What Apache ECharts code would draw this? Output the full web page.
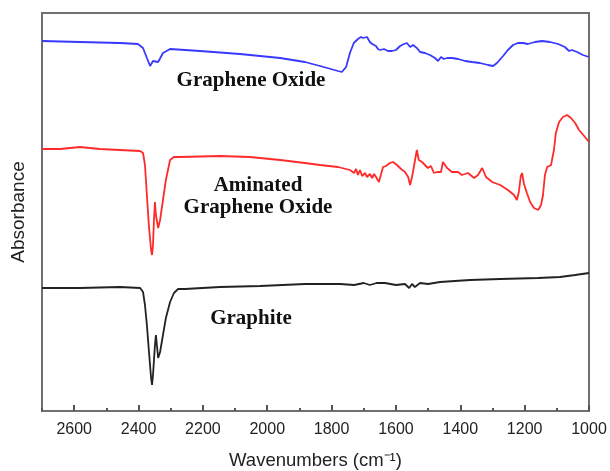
<!DOCTYPE html>
<html>
<head>
<meta charset="utf-8">
<script src="https://cdn.jsdelivr.net/npm/echarts@6/dist/echarts.min.js"></script>
<style>
html,body{margin:0;padding:0;background:#fff;}
#chart{width:610px;height:471px;}
</style>
</head>
<body>
<div id="chart"></div>
<script>
// wavenumber (cm-1) / absorbance (a.u.)
var goWave = [2700,2582,2458,2402,2386,2374,2364,2355,2349,2339,2324,2302,2209,2085,1960,1883,1836,1780,1768,1755,1743,1731,1718,1709,1702,1696,1690,1681,1674,1662,1656,1649,1637,1625,1612,1600,1587,1575,1566,1556,1547,1535,1525,1510,1494,1479,1469,1460,1451,1441,1426,1407,1385,1364,1339,1314,1298,1286,1267,1252,1236,1221,1205,1190,1168,1146,1121,1096,1075,1062,1053,1037,1019,1000];
var goAbs = [3.70,3.69,3.68,3.67,3.63,3.53,3.45,3.50,3.52,3.49,3.58,3.62,3.60,3.57,3.53,3.49,3.45,3.40,3.39,3.44,3.58,3.68,3.72,3.74,3.73,3.72,3.74,3.69,3.67,3.65,3.62,3.61,3.62,3.60,3.60,3.61,3.65,3.67,3.68,3.64,3.66,3.63,3.59,3.58,3.56,3.53,3.50,3.54,3.52,3.53,3.53,3.52,3.50,3.49,3.48,3.46,3.45,3.48,3.55,3.61,3.66,3.68,3.68,3.67,3.69,3.70,3.69,3.67,3.64,3.60,3.61,3.59,3.56,3.54];

var agoWave = [2700,2644,2582,2520,2458,2395,2386,2380,2374,2368,2361,2358,2355,2352,2349,2346,2339,2333,2324,2315,2302,2290,2271,2147,2054,1960,1883,1836,1780,1743,1730,1724,1718,1712,1705,1696,1690,1681,1674,1668,1662,1653,1647,1640,1631,1619,1609,1597,1584,1572,1562,1556,1550,1544,1535,1529,1519,1510,1501,1491,1482,1472,1469,1460,1454,1441,1426,1407,1395,1376,1357,1345,1332,1320,1301,1276,1252,1233,1224,1218,1212,1208,1202,1193,1183,1171,1158,1149,1143,1137,1130,1118,1109,1103,1093,1081,1068,1056,1043,1031,1015,1000];
var agoAbs = [2.62,2.62,2.64,2.62,2.61,2.60,2.58,2.46,2.16,1.86,1.61,1.56,1.66,1.91,2.09,1.96,1.83,1.91,2.11,2.31,2.51,2.54,2.54,2.55,2.54,2.51,2.48,2.46,2.44,2.41,2.38,2.42,2.36,2.41,2.35,2.38,2.34,2.37,2.33,2.37,2.34,2.29,2.36,2.44,2.45,2.48,2.49,2.46,2.42,2.39,2.34,2.26,2.34,2.34,2.61,2.51,2.49,2.46,2.43,2.45,2.38,2.39,2.38,2.39,2.49,2.43,2.39,2.39,2.36,2.38,2.33,2.36,2.43,2.34,2.29,2.26,2.21,2.16,2.11,2.19,2.35,2.38,2.27,2.18,2.09,2.03,2.01,2.06,2.16,2.36,2.44,2.46,2.61,2.78,2.89,2.94,2.96,2.93,2.88,2.81,2.75,2.69];

var grWave = [2700,2582,2458,2395,2386,2380,2374,2368,2361,2358,2355,2349,2346,2343,2339,2333,2324,2315,2302,2290,2277,2256,2147,2022,1883,1774,1730,1700,1681,1660,1634,1600,1572,1559,1550,1541,1525,1500,1463,1370,1276,1158,1090,1043,1000];
var grAbs = [1.23,1.23,1.24,1.23,1.19,1.06,0.86,0.61,0.33,0.26,0.36,0.66,0.76,0.66,0.53,0.59,0.76,0.93,1.09,1.18,1.22,1.22,1.24,1.25,1.27,1.27,1.26,1.28,1.26,1.28,1.28,1.26,1.27,1.23,1.27,1.24,1.28,1.27,1.29,1.31,1.32,1.33,1.34,1.36,1.38];

var xTickLabels = ['2600','2400','2200','2000','1800','1600','1400','1200','1000'];

function pairs(xs, ys){
    var out = [];
    for (var i = 0; i < xs.length; i++) out.push([xs[i], ys[i]]);
    return out;
}

var myChart = echarts.init(document.getElementById('chart'));
var labelFont = {fontFamily: 'Liberation Serif', fontWeight: 'bold', fontSize: 21, fill: '#111', align: 'center', verticalAlign: 'middle'};
var option = {
    backgroundColor: '#fff',
    animation: false,
    grid: {
        left: 42, right: 21, top: 13, bottom: 60,
        outerBoundsMode: 'none',
        show: true,
        borderColor: '#707070',
        borderWidth: 2
    },
    xAxis: [
        {
            type: 'value',
            min: 1000, max: 2700, interval: 200,
            inverse: true,
            name: 'Wavenumbers (cm⁻¹)',
            nameLocation: 'middle',
            nameGap: 40,
            nameTextStyle: {fontFamily: 'Liberation Sans', fontSize: 18.5, color: '#222'},
            axisLine: {show: false},
            axisTick: {show: true, inside: true, length: 6, lineStyle: {color: '#555', width: 2}},
            axisLabel: {
                showMaxLabel: false,
                margin: 11,
                fontFamily: 'Liberation Sans', fontSize: 16, color: '#222',
                formatter: function(v){ return xTickLabels.indexOf(String(v)) >= 0 ? String(v) : ''; }
            },
            splitLine: {show: false}
        },
        {
            // minor ticks every 100
            type: 'value',
            min: 1000, max: 2700, interval: 100,
            inverse: true,
            position: 'bottom',
            axisLine: {show: false},
            axisTick: {show: true, inside: true, length: 3, lineStyle: {color: '#555', width: 2}},
            axisLabel: {show: false},
            splitLine: {show: false}
        }
    ],
    yAxis: {
        type: 'value',
        min: 0, max: 3.98,
        name: 'Absorbance',
        nameLocation: 'middle',
        nameGap: 14,
        nameRotate: 90,
        nameTextStyle: {fontFamily: 'Liberation Sans', fontSize: 19, color: '#222'},
        axisLine: {show: false},
        axisTick: {show: false},
        axisLabel: {show: false},
        splitLine: {show: false}
    },
    series: [
        {name: 'Graphene Oxide', type: 'line', xAxisIndex: 0, data: pairs(goWave, goAbs), showSymbol: false, lineStyle: {color: '#3838ff', width: 1.8}},
        {name: 'Aminated Graphene Oxide', type: 'line', xAxisIndex: 0, data: pairs(agoWave, agoAbs), showSymbol: false, lineStyle: {color: '#ff2a2a', width: 1.8}},
        {name: 'Graphite', type: 'line', xAxisIndex: 0, data: pairs(grWave, grAbs), showSymbol: false, lineStyle: {color: '#222', width: 1.8}}
    ],
    graphic: [
        {type: 'text', x: 251, y: 81, style: Object.assign({text: 'Graphene Oxide'}, labelFont)},
        {type: 'text', x: 258, y: 197, style: Object.assign({text: 'Aminated\nGraphene Oxide', lineHeight: 22}, labelFont)},
        {type: 'text', x: 251, y: 319, style: Object.assign({text: 'Graphite'}, labelFont)}
    ]
};
myChart.setOption(option);
</script>
</body>
</html>
